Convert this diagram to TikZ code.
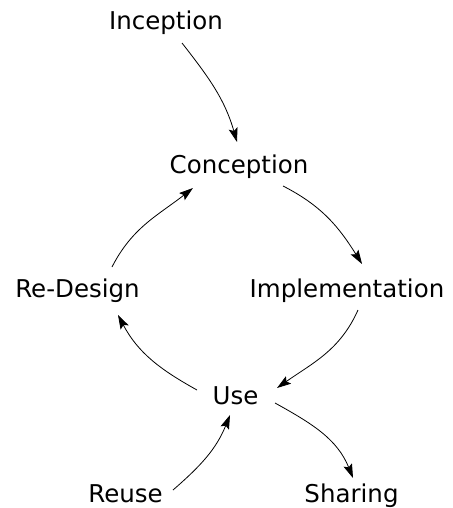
\documentclass[tikz,border=0pt]{standalone}
\usepackage{fontspec}
\setmainfont{DejaVu Sans}
\usetikzlibrary{calc,arrows.meta}
\begin{document}
\begin{tikzpicture}[x=1pt,y=1pt,
  lbl/.style={anchor=base,inner sep=0pt,font=\fontsize{24.5}{29}\selectfont},
  flow/.style={line width=0.8pt,-{Stealth[length=14pt,width=9pt,inset=2.5pt]}}]
\useasboundingbox (0,0) rectangle (452,-508);
\node[lbl] (inc) at (166,-30) {Inception};
\node[lbl] (con) at (239,-173) {Conception};
\node[lbl] (imp) at (347,-297) {Implementation};
\node[lbl] (red) at (77.5,-297) {Re-Design};
\node[lbl] (use) at (235.5,-404) {Use};
\node[lbl] (reu) at (125.5,-502) {Reuse};
\node[lbl] (sha) at (351.5,-502) {Sharing};
\draw[flow] ($(inc.base)+(16,-13)$) to[out=-52,in=106] ($(con.base)+(-2,31)$);
\draw[flow] ($(con.base)+(44,-13)$) to[out=-27,in=122] ($(imp.base)+(15,33)$);
\draw[flow] ($(imp.base)+(11,-13)$) to[out=-114,in=35] ($(use.base)+(41.5,16)$);
\draw[flow] ($(use.base)+(-38.5,14)$) to[out=151,in=-62] ($(red.base)+(40.5,-18)$);
\draw[flow] ($(red.base)+(34.5,30)$) to[out=63,in=-142] ($(con.base)+(-46,-15)$);
\draw[flow] ($(reu.base)+(47.5,12)$) to[out=41,in=-112] ($(use.base)+(-5.5,-11)$);
\draw[flow] ($(use.base)+(39.5,1)$) to[out=-29,in=112] ($(sha.base)+(1.5,24)$);
\end{tikzpicture}
\end{document}
